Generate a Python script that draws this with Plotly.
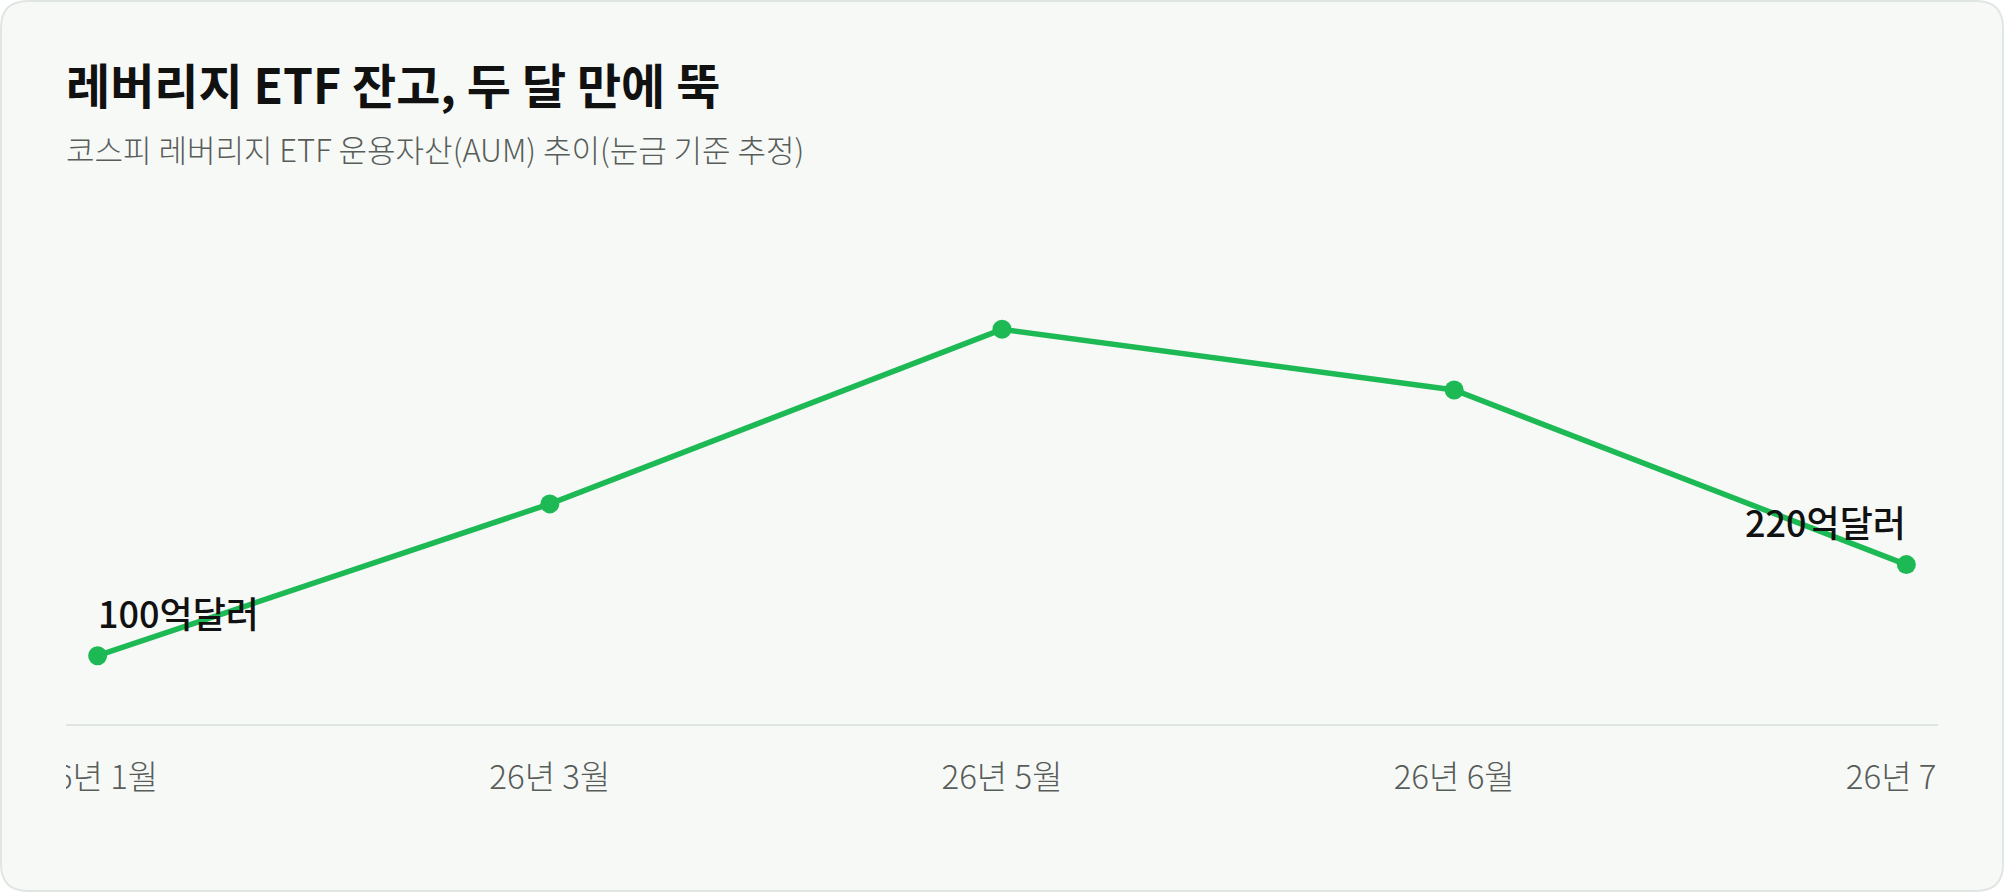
import plotly.graph_objects as go

# data
months = ["26년 1월", "26년 3월", "26년 5월", "26년 6월", "26년 7월"]
aum = [100, 300, 530, 450, 220]  # 억달러, estimated from gridless scale
end_labels = ["100억달러", "220억달러"]

W, H = 2004, 892
ML, MR, MT, MB = 66, 66, 261, 168
PW, PH = W - ML - MR, H - MT - MB

CARD_BG = "#f7f9f7"
GREEN = "#1db954"
FONT = "Noto Sans CJK KR"


def px(x):
    return (x - ML) / PW


def py(y):
    return (H - MB - y) / PH


def card_path(x0, y0, x1, y1, r):
    return (
        f"M {px(x0 + r)},{py(y0)} L {px(x1 - r)},{py(y0)} "
        f"Q {px(x1)},{py(y0)} {px(x1)},{py(y0 + r)} "
        f"L {px(x1)},{py(y1 - r)} Q {px(x1)},{py(y1)} {px(x1 - r)},{py(y1)} "
        f"L {px(x0 + r)},{py(y1)} Q {px(x0)},{py(y1)} {px(x0)},{py(y1 - r)} "
        f"L {px(x0)},{py(y0 + r)} Q {px(x0)},{py(y0)} {px(x0 + r)},{py(y0)} Z"
    )


fig = go.Figure()
fig.add_trace(go.Scatter(
    x=months,
    y=aum,
    mode="lines+markers",
    line=dict(color=GREEN, width=5.5),
    marker=dict(color=GREEN, size=19),
    hoverinfo="skip",
    cliponaxis=False,
    showlegend=False,
))

shapes = [
    dict(type="path", xref="paper", yref="paper", layer="below",
         path=card_path(1, 1, W - 1, H - 1, 27),
         fillcolor=CARD_BG, line=dict(color="#e0e6e2", width=2)),
    # the original clips tick labels at the plot edges
    dict(type="rect", xref="paper", yref="paper", layer="above",
         x0=px(3), x1=px(ML), y0=py(830), y1=py(735),
         fillcolor=CARD_BG, line=dict(width=0)),
    dict(type="rect", xref="paper", yref="paper", layer="above",
         x0=px(W - MR), x1=px(W - 3), y0=py(830), y1=py(735),
         fillcolor=CARD_BG, line=dict(width=0)),
]

label_font = dict(family=FONT, size=36, color="#111111", weight=500)
annotations = [
    dict(text="<b>레버리지 ETF 잔고, 두 달 만에 뚝</b>", xref="paper", yref="paper",
         x=px(64), y=py(83), xanchor="left", yanchor="middle", showarrow=False,
         font=dict(family=FONT, size=48, color="#111111")),
    dict(text="코스피 레버리지 ETF 운용자산(AUM) 추이(눈금 기준 추정)", xref="paper", yref="paper",
         x=px(64), y=py(148), xanchor="left", yanchor="middle", showarrow=False,
         font=dict(family=FONT, size=31, color="#585d5a", weight=300)),
    dict(text=end_labels[0], x=months[0], y=aum[0], xanchor="left", yanchor="bottom",
         xshift=-2, yshift=16, showarrow=False, font=label_font),
    dict(text=end_labels[1], x=months[-1], y=aum[-1], xanchor="right", yanchor="bottom",
         xshift=2, yshift=16, showarrow=False, font=label_font),
]

fig.update_layout(
    width=W,
    height=H,
    margin=dict(l=ML, r=MR, t=MT, b=MB),
    paper_bgcolor="#ffffff",
    plot_bgcolor="rgba(0,0,0,0)",
    shapes=shapes,
    annotations=annotations,
    font=dict(family=FONT),
)
fig.update_xaxes(
    type="category",
    range=[-0.07, 4.07],
    showline=True,
    linecolor="#dfe5e1",
    linewidth=2,
    showgrid=False,
    zeroline=False,
    ticks="",
    ticklabelstandoff=23,
    tickfont=dict(family=FONT, size=33, color="#585d5a", weight=300),
)
fig.update_yaxes(visible=False, range=[10, 620], fixedrange=True)

fig.write_html(
    "out.html",
    config={"displayModeBar": False},
    post_script="document.body.style.margin='0';",
)
